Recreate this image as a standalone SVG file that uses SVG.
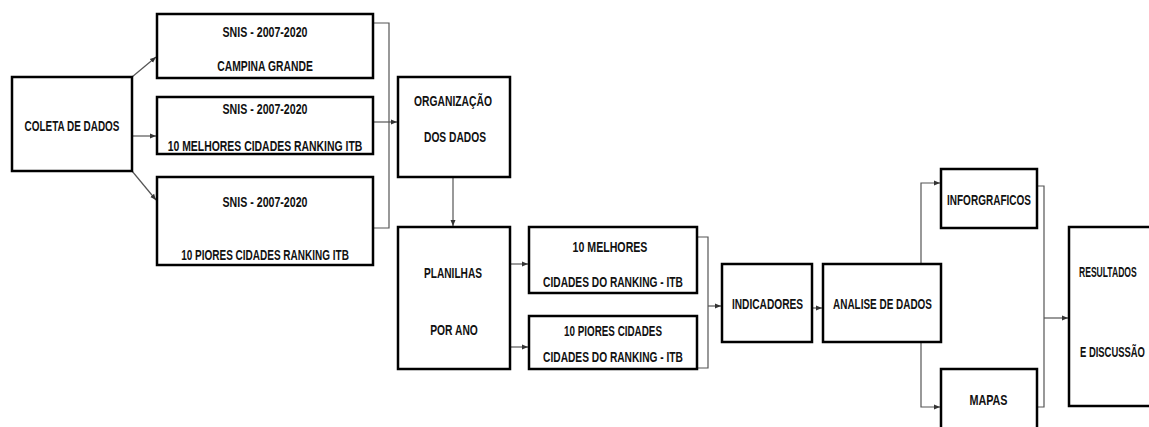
<svg xmlns="http://www.w3.org/2000/svg" width="1149" height="427" viewBox="0 0 1149 427">
<defs>
<marker id="ah" viewBox="0 0 6 6" refX="6" refY="3" markerWidth="6" markerHeight="6" markerUnits="userSpaceOnUse" orient="auto">
<path d="M0,0.5 L6,3 L0,5.5 z" fill="#333"/>
</marker>
<style>
.box{fill:#fff;stroke:#000;stroke-width:2.5}
.t{font-family:"Liberation Sans",Arial,sans-serif;font-weight:bold;font-size:15px;fill:#111;text-anchor:middle}
.ts{font-family:"Liberation Sans",Arial,sans-serif;font-weight:bold;font-size:15px;fill:#111;text-anchor:start}
.c{fill:none;stroke:#555;stroke-width:1.2}
.a{marker-end:url(#ah)}
</style>
</defs>
<rect width="1149" height="427" fill="#fff"/>
<g id="connectors">
<path class="c a" d="M132,77 L156,57"/>
<path class="c a" d="M132,136 L156,136"/>
<path class="c a" d="M132,171 L156,200"/>
<path class="c" d="M373,23 H389 V228 H373"/>
<path class="c a" d="M373,122 H397"/>
<path class="c a" d="M453,177 V226"/>
<path class="c a" d="M510,264 H528"/>
<path class="c a" d="M510,347 H528"/>
<path class="c" d="M697,237 H708 V368 H697"/>
<path class="c a" d="M708,306 H721"/>
<path class="c a" d="M812,308 H822"/>
<path class="c a" d="M921,264 V183 H940"/>
<path class="c a" d="M921,342 V407 H940"/>
<path class="c" d="M1037,186 H1044 V407 H1037"/>
<path class="c a" d="M1044,318 H1068"/>
</g>
<g id="coleta">
<rect class="box" x="12" y="77" width="120" height="94"/>
<text class="t" transform="translate(72,131) scale(0.662,1)">COLETA DE DADOS</text>
</g>
<g id="snis-cg">
<rect class="box" x="157" y="14" width="216" height="64"/>
<text class="t" transform="translate(265,37) scale(0.708,1)">SNIS - 2007-2020</text>
<text class="t" transform="translate(265,71) scale(0.69,1)">CAMPINA GRANDE</text>
</g>
<g id="snis-melhores">
<rect class="box" x="157" y="97" width="216" height="57"/>
<text class="t" transform="translate(265,114) scale(0.708,1)">SNIS - 2007-2020</text>
<text class="t" transform="translate(265,151) scale(0.696,1)">10 MELHORES CIDADES RANKING ITB</text>
</g>
<g id="snis-piores">
<rect class="box" x="157" y="177" width="216" height="88"/>
<text class="t" transform="translate(265,207) scale(0.708,1)">SNIS - 2007-2020</text>
<text class="t" transform="translate(265,260) scale(0.667,1)">10 PIORES CIDADES RANKING ITB</text>
</g>
<g id="organizacao">
<rect class="box" x="398" y="77" width="112" height="100"/>
<text class="t" transform="translate(453,106) scale(0.688,1)">ORGANIZAÇÃO</text>
<text class="t" transform="translate(455,142) scale(0.683,1)">DOS DADOS</text>
</g>
<g id="planilhas">
<rect class="box" x="398" y="227" width="112" height="142"/>
<text class="t" transform="translate(453,278) scale(0.676,1)">PLANILHAS</text>
<text class="t" transform="translate(454,335) scale(0.686,1)">POR ANO</text>
</g>
<g id="melhores">
<rect class="box" x="529" y="227" width="168" height="66"/>
<text class="t" transform="translate(610,252) scale(0.708,1)">10 MELHORES</text>
<text class="t" transform="translate(613,287) scale(0.68,1)">CIDADES DO RANKING - ITB</text>
</g>
<g id="piores">
<rect class="box" x="529" y="316" width="168" height="53"/>
<text class="t" transform="translate(613,336) scale(0.657,1)">10 PIORES CIDADES</text>
<text class="t" transform="translate(613,362) scale(0.68,1)">CIDADES DO RANKING - ITB</text>
</g>
<g id="indicadores">
<rect class="box" x="722" y="264" width="90" height="78"/>
<text class="t" transform="translate(767.5,309) scale(0.678,1)">INDICADORES</text>
</g>
<g id="analise">
<rect class="box" x="823" y="264" width="118" height="78"/>
<text class="t" transform="translate(882.5,309) scale(0.664,1)">ANALISE DE DADOS</text>
</g>
<g id="infograficos">
<rect class="box" x="941" y="169" width="96" height="59"/>
<text class="t" transform="translate(989,205) scale(0.668,1)">INFORGRAFICOS</text>
</g>
<g id="mapas">
<rect class="box" x="941" y="369" width="96" height="70"/>
<text class="t" transform="translate(988.5,405) scale(0.72,1)">MAPAS</text>
</g>
<g id="resultados">
<rect class="box" x="1069" y="227" width="82" height="179"/>
<text class="ts" transform="translate(1079,277) scale(0.571,1)">RESULTADOS</text>
<text class="ts" transform="translate(1080,357) scale(0.629,1)">E DISCUSSÃO</text>
</g>
</svg>
